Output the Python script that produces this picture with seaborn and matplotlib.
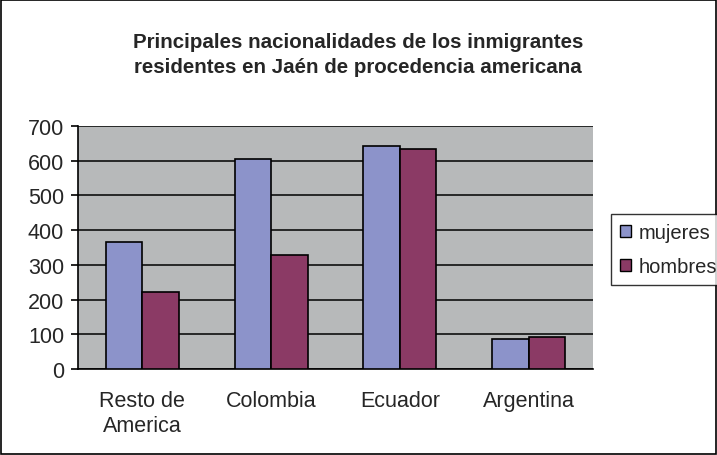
import matplotlib
matplotlib.use("Agg")
import matplotlib.pyplot as plt
import seaborn as sns
import pandas as pd
from matplotlib.patches import Rectangle, Patch

categories = ["Resto de\nAmerica", "Colombia", "Ecuador", "Argentina"]
mujeres = [367, 605, 643, 86]
hombres = [223, 329, 634, 93]
series = ["mujeres", "hombres"]
yticks = [0, 100, 200, 300, 400, 500, 600, 700]
title = "Principales nacionalidades de los inmigrantes\nresidentes en Jaén de procedencia americana"

df = pd.DataFrame({
    "cat": categories * 2,
    "val": mujeres + hombres,
    "serie": [series[0]] * 4 + [series[1]] * 4,
})

sns.set_style("white")
plt.rcParams['font.family'] = ['Liberation Sans', 'DejaVu Sans']

colors = {"mujeres": "#8C93CA", "hombres": "#8B3A65"}

fig = plt.figure(figsize=(7.17, 4.56), dpi=100)
W, H = 717, 456
ax = fig.add_axes([78 / W, 1 - 370 / H, (593 - 78) / W, (370 - 127) / H])
ax.set_facecolor("#B7B9BA")

sns.barplot(data=df, x="cat", y="val", hue="serie", palette=colors,
            width=0.567, edgecolor="black", linewidth=1.2, ax=ax,
            legend=False, zorder=3, saturation=1)

ax.set_ylim(0, 700)
ax.set_xlim(-0.5, 3.5)
ax.set_yticks(yticks)
ax.yaxis.grid(True, color="black", linewidth=1.1, zorder=1)
ax.set_axisbelow(True)
ax.set_xlabel("")
ax.set_ylabel("")
for s in ["top", "right"]:
    ax.spines[s].set_visible(False)
for s in ["left", "bottom"]:
    ax.spines[s].set_color("black")
    ax.spines[s].set_linewidth(1.2)

ax.set_xticks([0, 1, 2, 3])
ax.set_xticklabels(categories, fontsize=15.5, linespacing=1.25)
ax.tick_params(axis="x", length=0, pad=15)
ax.set_xticks([-0.5, 0.5, 1.5, 2.5, 3.5], minor=True)
ax.tick_params(axis="x", which="minor", length=5, width=1.2, color="black", direction="out")
ax.tick_params(axis="y", length=5, width=1.2, color="black", direction="out",
               labelsize=15.5, left=True, pad=5)

fig.text(358 / W, 1 - 55 / H, title, ha="center", va="center", fontsize=14.8,
         fontweight="bold", linespacing=1.35)

handles = [Patch(facecolor=colors[s], edgecolor="black", label=s) for s in series]
leg = fig.legend(handles=handles, loc="upper left", bbox_to_anchor=(611 / W, 1 - 215 / H),
                 frameon=True, fontsize=14.5, handlelength=0.55, handleheight=0.55,
                 handletextpad=0.35, borderpad=0.45, labelspacing=0.75, fancybox=False,
                 borderaxespad=0)
leg.get_frame().set_edgecolor("black")
leg.get_frame().set_linewidth(1.0)

fig.patches.append(Rectangle((0.002, 0.003), 0.996, 0.994, transform=fig.transFigure,
                             fill=False, edgecolor="black", linewidth=1.2))

fig.savefig("out.png", dpi=100)
